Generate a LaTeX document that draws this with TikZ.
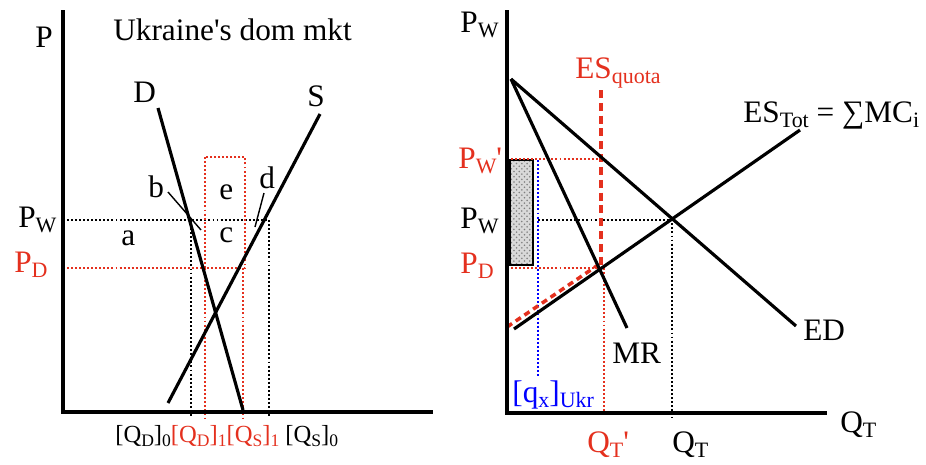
\documentclass[tikz,border=0pt]{standalone}
\usepackage{fontspec}
\setmainfont{Liberation Serif}
\usetikzlibrary{patterns}
\definecolor{quotared}{RGB}{228,48,30}
\newcommand\subtx[1]{\raisebox{-0.4ex}{\fontsize{12.5}{14}\selectfont #1}}
\newcommand\subsm[1]{\raisebox{-0.4ex}{\fontsize{10}{12}\selectfont #1}}

\tikzset{
    axis/.style={line width=2.4pt, line join=miter},
    curve/.style={line width=1.8pt},
    guide/.style={line width=0.9pt, dash pattern=on 1.1pt off 1.2pt},
    lbl/.style={inner sep=0pt, anchor=base west},
}

\begin{document}
\begin{tikzpicture}[x=0.02cm, y=-0.02cm, font=\fontsize{17.8}{20}\selectfont]
    \useasboundingbox (0,0) rectangle (926,464);

    % Ukraine's domestic market
    \coordinate (ptop) at (63,10);
    \coordinate (orig) at (63,412);
    \coordinate (qend) at (433,412);
    \coordinate (dtop) at (158,108);
    \coordinate (dbot) at (243,410);
    \coordinate (sbot) at (168,403);
    \coordinate (stop) at (320,114);

    \draw [guide]
        (63,220) -- (269,220) -- (269,418)
        (191,220) -- (191,418)
        ;
    \draw [guide, quotared]
        (63,268) -- (205,268)
        (205,157) rectangle (245,268)
        (205,268) -- (205,418)
        (243,268) -- (243,418)
        ;

    \draw [axis] (ptop) -- (orig) -- (qend);
    \draw [curve] (dtop) -- (dbot);
    \draw [curve] (sbot) -- (stop);

    \draw [thick]
        (168,192) -- (201,230)
        (264,193) -- (255,227)
        ;

    \node [lbl] (lblp) at (35,47) {P};
    \node [lbl] (title) at (113,40) {Ukraine\textquotesingle s dom mkt};
    \node [lbl] (lbld) at (133,102) {D};
    \node [lbl] (lbls) at (307,106) {S};
    \node [lbl] (pwl) at (18,227) {P\subtx{W}};
    \node [lbl, quotared] (pdl) at (14,272) {P\subtx{D}};
    \node [lbl] (area) at (121,245) {a};
    \node [lbl] (areb) at (148,197) {b};
    \node [lbl] (aree) at (219,199) {e};
    \node [lbl] (arec) at (219,242) {c};
    \node [lbl] (ared) at (259,188) {d};
    \node [lbl, font=\fontsize{14}{16}\selectfont] (qlbl) at (115,442)
        {[Q\subsm{D}]\subsm{0}\textcolor{quotared}{[Q\subsm{D}]\subsm{1}[Q\subsm{S}]\subsm{1}} [Q\subsm{S}]\subsm{0}};

    % export market
    \coordinate (ptop2) at (507,10);
    \coordinate (orig2) at (507,413);
    \coordinate (qend2) at (827,413);
    \coordinate (edtop) at (511,79);
    \coordinate (edbot) at (796,326);
    \coordinate (mrbot) at (627,328);
    \coordinate (esbot) at (514,329);
    \coordinate (estop) at (800,130);

    \fill [gray!30] (510,160) rectangle (533,265);
    \path [pattern=crosshatch dots, pattern color=gray] (510,160) rectangle (533,265);
    \draw [thick] (510,160) rectangle (533,265);

    \draw [guide, quotared]
        (507,159) -- (601,159)
        (507,268) -- (604,268) -- (604,413)
        ;
    \draw [guide]
        (538,220) -- (672,220) -- (672,418)
        ;
    \draw [guide, blue] (538,160) -- (538,378);

    \draw [line width=2.3pt, quotared, dash pattern=on 4.5pt off 2.8pt]
        (601,90) -- (601,268);
    \draw [line width=2pt, quotared, dash pattern=on 3.5pt off 2.5pt]
        (507,327) -- (598,265);

    \draw [axis] (ptop2) -- (orig2) -- (qend2);
    \draw [curve] (edtop) -- (edbot);
    \draw [curve] (edtop) -- (mrbot);
    \draw [curve] (esbot) -- (estop);

    \node [lbl] (pwtop) at (460,32) {P\subtx{W}};
    \node [lbl, quotared] (pwq) at (458,168) {P\subtx{W}\textquotesingle};
    \node [lbl] (pw2) at (460,228) {P\subtx{W}};
    \node [lbl, quotared] (pd2) at (460,273) {P\subtx{D}};
    \node [lbl, quotared] (esq) at (575,78) {ES\subtx{quota}};
    \node [lbl] (est) at (743,122) {ES\subtx{Tot} = ∑MC\subtx{i}};
    \node [lbl] (lbled) at (803,340) {ED};
    \node [lbl] (lblmr) at (612,363) {MR};
    \node [lbl] (qt) at (840,432) {Q\subtx{T}};
    \node [lbl, quotared] (qtq) at (587,452) {Q\subtx{T}\textquotesingle};
    \node [lbl] (qt2) at (672,452) {Q\subtx{T}};
    \node [lbl, blue] (qx) at (512,402) {[q\subtx{x}]\subtx{Ukr}};
\end{tikzpicture}
\end{document}
